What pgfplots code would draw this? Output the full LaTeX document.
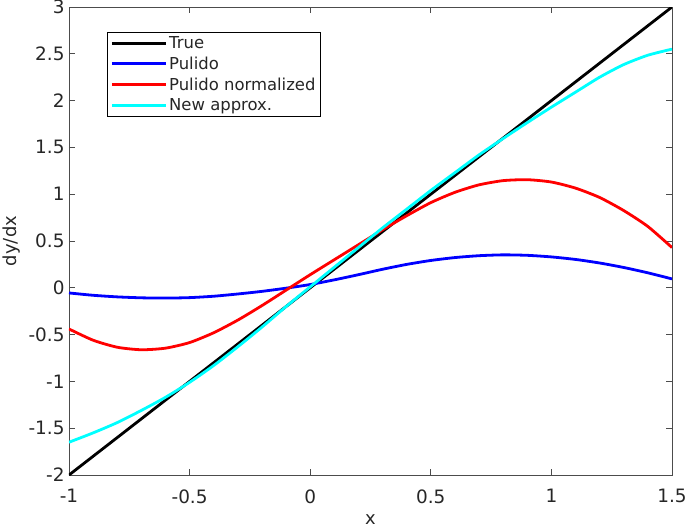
\documentclass[border=0pt]{standalone}
\usepackage{fontspec}
\setmainfont{DejaVu Sans}
\usepackage{pgfplots}
\pgfplotsset{compat=1.18}
\definecolor{axgray}{gray}{0.3}
\definecolor{mblue}{rgb}{0,0,1}
\definecolor{mred}{rgb}{1,0,0}
\definecolor{mcyan}{rgb}{0,1,1}
\begin{document}
\begin{tikzpicture}
\useasboundingbox (-69bp,-53bp) rectangle (616bp,475bp);
\begin{axis}[
  at={(0,0)}, anchor=south west,
  scale only axis, width=603bp, height=468bp,
  xmin=-1, xmax=1.5, ymin=-2, ymax=3,
  xtick={-1,-0.5,0,0.5,1,1.5},
  ytick={-2,-1.5,-1,-0.5,0,0.5,1,1.5,2,2.5,3},
  tick align=inside, major tick length=6bp,
  axis line style={draw=axgray, line width=0.8bp},
  tick style={draw=axgray, line width=0.8bp},
  /pgf/number format/assume math mode=true,
  ticklabel style={font=\fontsize{18.5}{21}\selectfont, text=black!85},
  xticklabel style={yshift=-11bp},
  yticklabel style={xshift=-1bp},
  xlabel={x}, ylabel={dy/dx},
  label style={font=\fontsize{18}{21}\selectfont, text=black!85},
  xlabel style={at={(axis description cs:0.5,-0.0962)}, anchor=center},
  ylabel style={at={(axis description cs:-0.0945,0.5)}, anchor=center},
  legend style={at={(rel axis cs:0.063,0.9466)}, anchor=north west,
    draw=black, line width=0.8bp, fill=white,
    font=\fontsize{16.5}{19}\selectfont,
    inner xsep=3bp, inner ysep=3bp, row sep=5bp,
    nodes={inner xsep=2bp, inner ysep=1bp, text=black!85}},
  legend cell align=left,
  legend image code/.code={\draw[#1] (0bp,0bp) -- (54bp,0bp);},
]
\addplot[black, line width=2.8bp] coordinates {(-1,-2) (1.5,3)};
\addlegendentry{True}
\addplot[mblue, line width=2.8bp, smooth, tension=0.4] coordinates {
(-1.0,-0.055) (-0.9,-0.080) (-0.8,-0.097) (-0.7,-0.107) (-0.6,-0.110)
(-0.5,-0.105) (-0.4,-0.090) (-0.3,-0.066) (-0.2,-0.038) (-0.1,-0.004)
(0.0,0.035) (0.1,0.085) (0.2,0.140) (0.3,0.198) (0.4,0.250)
(0.5,0.292) (0.6,0.323) (0.7,0.343) (0.8,0.352) (0.9,0.347)
(1.0,0.330) (1.1,0.303) (1.2,0.265) (1.3,0.217) (1.4,0.160) (1.5,0.095)};
\addlegendentry{Pulido}
\addplot[mred, line width=2.8bp, smooth, tension=0.4] coordinates {
(-1.0,-0.44) (-0.9,-0.56) (-0.8,-0.635) (-0.7,-0.662) (-0.6,-0.645)
(-0.5,-0.585) (-0.4,-0.48) (-0.3,-0.345) (-0.2,-0.19) (-0.1,-0.025)
(0.0,0.14) (0.1,0.30) (0.2,0.46) (0.3,0.62) (0.4,0.77)
(0.5,0.91) (0.6,1.02) (0.7,1.10) (0.8,1.145) (0.9,1.155)
(1.0,1.13) (1.1,1.065) (1.2,0.965) (1.3,0.825) (1.4,0.655) (1.5,0.43)};
\addlegendentry{Pulido normalized}
\addplot[mcyan, line width=2.8bp, smooth, tension=0.4] coordinates {
(-1.0,-1.65) (-0.9,-1.55) (-0.8,-1.44) (-0.7,-1.31) (-0.6,-1.17)
(-0.5,-1.01) (-0.4,-0.83) (-0.3,-0.63) (-0.2,-0.42) (-0.1,-0.20)
(0.0,0.01) (0.1,0.22) (0.2,0.43) (0.3,0.64) (0.4,0.84)
(0.5,1.04) (0.6,1.23) (0.7,1.42) (0.8,1.595) (0.9,1.765)
(1.0,1.93) (1.1,2.09) (1.2,2.25) (1.3,2.385) (1.4,2.485) (1.5,2.55)};
\addlegendentry{New approx.}
\end{axis}
\end{tikzpicture}
\end{document}
